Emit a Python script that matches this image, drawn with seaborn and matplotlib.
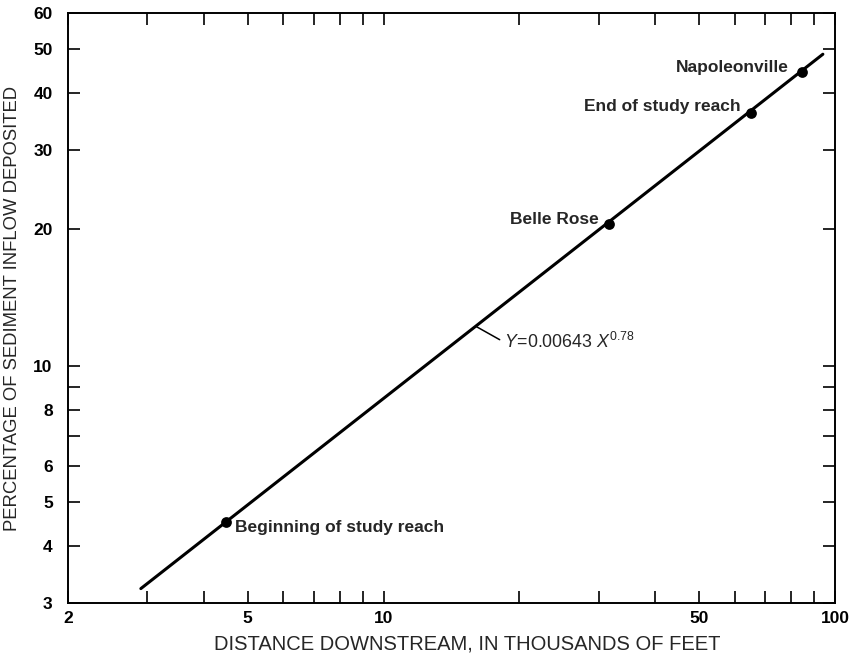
import numpy as np
import pandas as pd
import matplotlib
matplotlib.use("Agg")
import matplotlib.pyplot as plt
from matplotlib.ticker import FixedLocator, NullLocator, NullFormatter
import seaborn as sns

# Sampling sites: distance downstream (thousands of feet) and percent of inflow deposited
sites = ["Beginning of study reach", "Belle Rose", "End of study reach", "Napoleonville"]
distance_kft = [4.48, 31.5, 65.0, 84.4]
pct_deposited = [4.52, 20.6, 36.2, 44.4]

# Fitted power law Y = a * X**b, with X in feet
coef_a = 0.00643
expo_b = 0.78
fit_range_kft = [2.9, 94.0]

x_ticks = [2, 3, 4, 5, 6, 7, 8, 9, 10, 20, 30, 40, 50, 60, 70, 80, 90, 100]
x_labeled = [2, 5, 10, 50, 100]
y_ticks = [3, 4, 5, 6, 7, 8, 9, 10, 20, 30, 40, 50, 60]
y_labeled = [3, 4, 5, 6, 8, 10, 20, 30, 40, 50, 60]


def power_fit(x_kft):
    return coef_a * (np.asarray(x_kft) * 1000.0) ** expo_b


sns.set_theme(style="ticks")
plt.rcParams["font.family"] = ["Liberation Sans", "DejaVu Sans"]
plt.rcParams["mathtext.fontset"] = "custom"
plt.rcParams["mathtext.rm"] = "Liberation Sans"
plt.rcParams["mathtext.it"] = "Liberation Sans:italic"

fig = plt.figure(figsize=(8.58, 6.58), dpi=100)
ax = fig.add_axes([68 / 858, 1 - 603 / 658, (835 - 68) / 858, (603 - 13) / 658])

fit_df = pd.DataFrame({"x": fit_range_kft, "y": power_fit(fit_range_kft)})
site_df = pd.DataFrame({"site": sites, "x": distance_kft, "y": pct_deposited})

sns.lineplot(data=fit_df, x="x", y="y", ax=ax, color="black", linewidth=2.2)
sns.scatterplot(data=site_df, x="x", y="y", ax=ax, color="black", s=60,
                edgecolor="black", linewidth=0, zorder=5)

ax.set_xscale("log")
ax.set_yscale("log")
ax.set_xlim(2, 100)
ax.set_ylim(3, 60)

ax.xaxis.set_major_locator(FixedLocator(x_ticks))
ax.xaxis.set_minor_locator(NullLocator())
ax.set_xticklabels([str(t) if t in x_labeled else "" for t in x_ticks])
ax.yaxis.set_major_locator(FixedLocator(y_ticks))
ax.yaxis.set_minor_locator(NullLocator())
ax.set_yticklabels([str(t) if t in y_labeled else "" for t in y_ticks])
ax.xaxis.set_minor_formatter(NullFormatter())
ax.yaxis.set_minor_formatter(NullFormatter())

ax.tick_params(axis="both", which="major", direction="in", length=8.5, width=1.2,
               top=True, right=True, labelsize=12.5, colors="black")
ax.tick_params(axis="x", pad=6)
ax.tick_params(axis="y", pad=11)
for lab in ax.get_xticklabels() + ax.get_yticklabels():
    lab.set_fontweight("bold")

for sp in ax.spines.values():
    sp.set_linewidth(1.4)
    sp.set_color("black")

ax.set_xlabel("DISTANCE DOWNSTREAM, IN THOUSANDS OF FEET", fontsize=14.5)
ax.set_ylabel("PERCENTAGE OF SEDIMENT INFLOW DEPOSITED", fontsize=13.3)
ax.xaxis.set_label_coords(0.52, -0.054)
ax.yaxis.set_label_coords(-0.061, 0.5)

# Site labels placed beside their dots
label_offsets = {
    "Beginning of study reach": ((6.5, -3.6), "left"),
    "Belle Rose": ((-7.0, 3.0), "right"),
    "End of study reach": ((-7.0, 4.3), "right"),
    "Napoleonville": ((-9.4, 3.6), "right"),
}
for name, xv, yv in zip(sites, distance_kft, pct_deposited):
    off, ha = label_offsets[name]
    ax.annotate(name, xy=(xv, yv), xytext=off, textcoords="offset points",
                ha=ha, va="center", fontsize=12.5, fontweight="bold")

# Equation with leader line to the fitted curve
leader_x = 16.0
ax.annotate(r"$\mathit{Y}\!=\!0.00643\ \mathit{X}^{0.78}$",
            xy=(leader_x, float(power_fit(leader_x))), xytext=(20.5, -11.5),
            textcoords="offset points", ha="left", va="center", fontsize=12.8,
            arrowprops=dict(arrowstyle="-", color="black", lw=1.1,
                            shrinkA=1, shrinkB=0, relpos=(0, 0.5)))

fig.savefig("out.png", dpi=100)
